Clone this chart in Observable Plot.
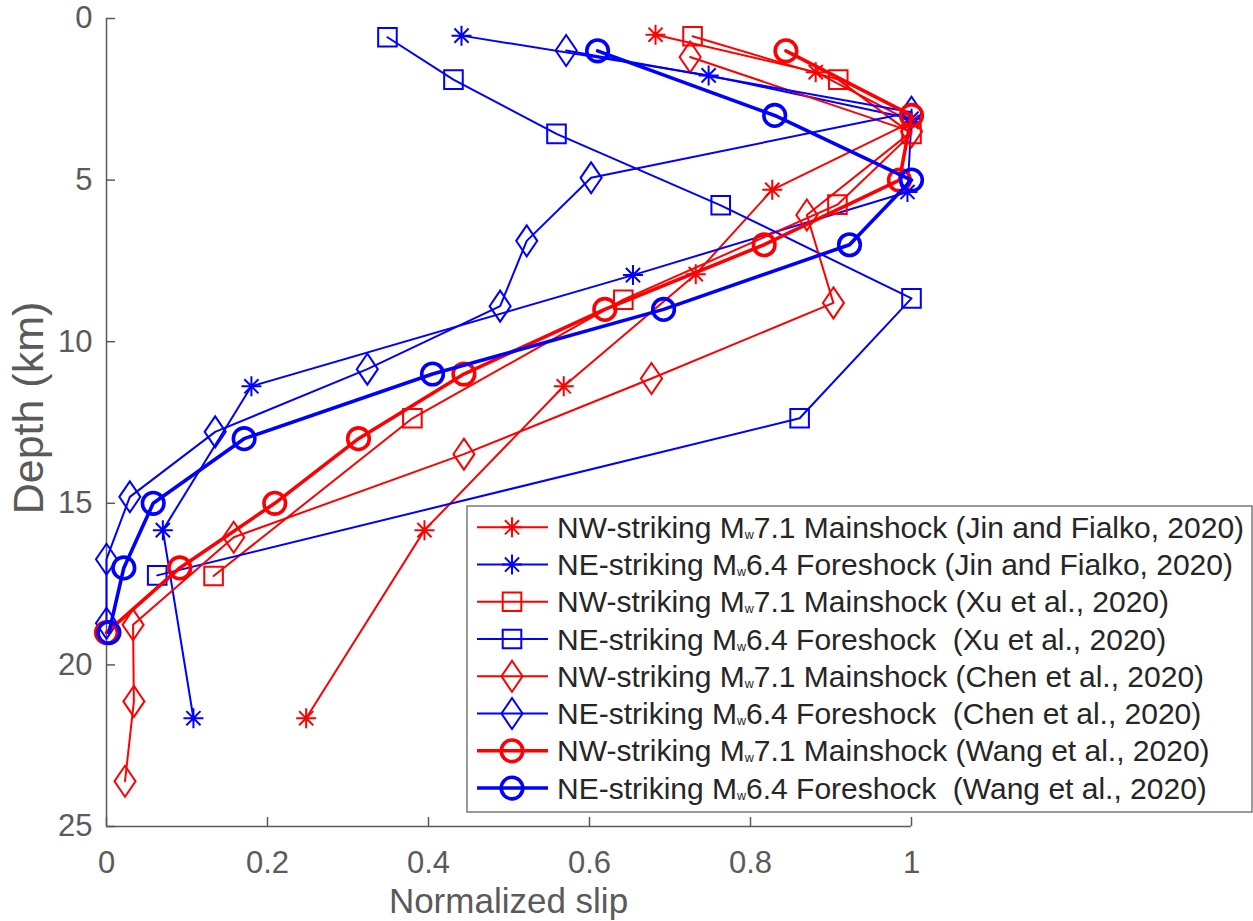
<!DOCTYPE html>
<html><head><meta charset="utf-8">
<script src="https://cdn.jsdelivr.net/npm/d3@7"></script>
<script src="https://cdn.jsdelivr.net/npm/@observablehq/plot@0.6"></script>
<style>
body{margin:0;background:#fff}
svg text{white-space:pre}
</style>
</head><body><div id="chart"></div>
<script>
// ---- ticks ----
const xTicks = [0, 0.2, 0.4, 0.6, 0.8, 1];
const yTicks = [0, 5, 10, 15, 20, 25];

// ---- data (depth km, normalized slip) ----
const jinNWDepth = [0.5, 1.66, 3.2, 5.3, 7.91, 11.38, 15.83, 21.65];
const jinNWSlip  = [0.682, 0.881, 1.0, 0.827, 0.732, 0.568, 0.395, 0.248];
const jinNEDepth = [0.53, 1.76, 3.1, 5.37, 7.94, 11.38, 15.83, 21.65];
const jinNESlip  = [0.441, 0.748, 1.0, 0.995, 0.654, 0.180, 0.070, 0.108];

const xuNWDepth = [0.55, 1.89, 3.57, 5.76, 8.7, 12.37, 17.25];
const xuNWSlip  = [0.728, 0.909, 1.0, 0.908, 0.642, 0.380, 0.133];
const xuNEDepth = [0.58, 1.89, 3.57, 5.78, 8.66, 12.37, 17.23];
const xuNESlip  = [0.349, 0.431, 0.559, 0.763, 1.0, 0.861, 0.063];

const chenNWDepth = [1.19, 3.5, 6.08, 8.8, 11.14, 13.48, 16.05, 18.76, 21.13, 23.6];
const chenNWSlip  = [0.725, 1.0, 0.870, 0.903, 0.677, 0.444, 0.158, 0.033, 0.034, 0.023];
const chenNEDepth = [0.99, 2.9, 4.93, 6.88, 8.9, 10.85, 12.79, 14.8, 16.73, 18.71];
const chenNESlip  = [0.571, 1.0, 0.602, 0.522, 0.489, 0.324, 0.135, 0.029, 0.0, 0.0];

const wangDepth  = [1, 3, 5, 7, 9, 11, 13, 15, 17, 19];
const wangNWSlip = [0.844, 1.0, 0.985, 0.817, 0.619, 0.444, 0.313, 0.209, 0.091, 0.0];
const wangNESlip = [0.610, 0.830, 1.0, 0.923, 0.692, 0.405, 0.171, 0.058, 0.0215, 0.003];

// ---- legend labels ----
const labelPre  = ["NW-striking M", "NE-striking M", "NW-striking M", "NE-striking M",
                   "NW-striking M", "NE-striking M", "NW-striking M", "NE-striking M"];
const labelSub  = "w";
const labelPost = ["7.1 Mainshock (Jin and Fialko, 2020)",
                   "6.4 Foreshock (Jin and Fialko, 2020)",
                   "7.1 Mainshock (Xu et al., 2020)",
                   "6.4 Foreshock  (Xu et al., 2020)",
                   "7.1 Mainshock (Chen et al., 2020)",
                   "6.4 Foreshock  (Chen et al., 2020)",
                   "7.1 Mainshock (Wang et al., 2020)",
                   "6.4 Foreshock  (Wang et al., 2020)"];

// ---- MATLAB-like marker symbols (size = pi r^2) ----
const symAsterisk = {draw(ctx, size) {
  const r = Math.sqrt(size / Math.PI), d = r * Math.SQRT1_2;
  ctx.moveTo(0, -r); ctx.lineTo(0, r);
  ctx.moveTo(-r, 0); ctx.lineTo(r, 0);
  ctx.moveTo(-d, -d); ctx.lineTo(d, d);
  ctx.moveTo(-d, d); ctx.lineTo(d, -d);
}};
const symSquare = {draw(ctx, size) {
  const r = Math.sqrt(size / Math.PI);
  ctx.moveTo(-r, -r); ctx.lineTo(r, -r); ctx.lineTo(r, r); ctx.lineTo(-r, r); ctx.closePath();
}};
const symDiamond = {draw(ctx, size) {
  const h = Math.sqrt(size / Math.PI), w = h * 0.68;
  ctx.moveTo(0, -h); ctx.lineTo(w, 0); ctx.lineTo(0, h); ctx.lineTo(-w, 0); ctx.closePath();
}};
const symCircle = {draw(ctx, size) {
  const r = Math.sqrt(size / Math.PI);
  ctx.moveTo(r, 0); ctx.arc(0, 0, r, 0, 2 * Math.PI);
}};

const RED = "#ff0000", BLUE = "#0000ff";
const series = [
  {depth: jinNWDepth,  slip: jinNWSlip,  color: RED,  sym: symAsterisk, r: 10,   w: 2},
  {depth: jinNEDepth,  slip: jinNESlip,  color: BLUE, sym: symAsterisk, r: 10,   w: 2},
  {depth: xuNWDepth,   slip: xuNWSlip,   color: RED,  sym: symSquare,   r: 9.3,  w: 2},
  {depth: xuNEDepth,   slip: xuNESlip,   color: BLUE, sym: symSquare,   r: 9.3,  w: 2},
  {depth: chenNWDepth, slip: chenNWSlip, color: RED,  sym: symDiamond,  r: 15.5, w: 2},
  {depth: chenNEDepth, slip: chenNESlip, color: BLUE, sym: symDiamond,  r: 15.5, w: 2},
  {depth: wangDepth,   slip: wangNWSlip, color: RED,  sym: symCircle,   r: 10.8, w: 3.6},
  {depth: wangDepth,   slip: wangNESlip, color: BLUE, sym: symCircle,   r: 10.8, w: 3.6}
];

const seriesMarks = series.flatMap(s => {
  const pts = s.depth.map((d, i) => ({depth: d, slip: s.slip[i]}));
  return [
    Plot.line(pts, {x: "slip", y: "depth", stroke: s.color, strokeWidth: s.w, strokeLinejoin: "round"}),
    Plot.dot(pts, {x: "slip", y: "depth", symbol: s.sym, r: s.r, stroke: s.color, fill: "none", strokeWidth: s.w})
  ];
});

const FONT = "'Liberation Sans', Helvetica, Arial, sans-serif";
const AXIS = "#5a5a5a";
const W = 1253, H = 921, ML = 106, MR = 342, MT = 18, MB = 95;

const svg = Plot.plot({
  width: W, height: H,
  marginLeft: ML, marginRight: MR, marginTop: MT, marginBottom: MB,
  style: {fontFamily: FONT, background: "#fff", overflow: "visible"},
  x: {domain: [0, 1]},
  y: {domain: [0, 25], reverse: true},
  marks: [
    Plot.axisX(xTicks, {tickSize: 0, tickPadding: 24, fontSize: 31, fill: AXIS, label: null, tickFormat: d => String(d)}),
    Plot.axisY(yTicks, {tickSize: 0, tickPadding: 14, fontSize: 31, fill: AXIS, label: null, tickFormat: d => String(d)}),
    Plot.ruleX(xTicks, {x: d => d, stroke: AXIS, strokeWidth: 1.5, insetTop: (H - MT - MB) - 9}),
    Plot.ruleY(yTicks, {y: d => d, stroke: AXIS, strokeWidth: 1.5, insetRight: (W - ML - MR) - 9}),
    Plot.ruleX([0], {stroke: AXIS, strokeWidth: 1.5}),
    Plot.ruleY([25], {stroke: AXIS, strokeWidth: 1.5}),
    ...seriesMarks
  ]
});
document.getElementById("chart").appendChild(svg);

const root = d3.select(svg);
// axis titles
root.append("text")
  .attr("x", (ML + W - MR) / 2).attr("y", 913)
  .attr("text-anchor", "middle").attr("font-size", 35).attr("fill", AXIS)
  .attr("font-family", FONT).text("Normalized slip");
root.append("text")
  .attr("transform", "translate(43,408) rotate(-90)")
  .attr("text-anchor", "middle").attr("font-size", 43).attr("fill", AXIS)
  .attr("font-family", FONT).text("Depth (km)");

// legend
const lg = root.append("g").attr("font-family", FONT).attr("text-anchor", "start");
lg.append("rect").attr("x", 467).attr("y", 506).attr("width", 785).attr("height", 306)
  .attr("fill", "#fff").attr("stroke", "#7a7a7a").attr("stroke-width", 1.5);
series.forEach((s, i) => {
  const cy = 527.3 + i * 37.25;
  lg.append("line").attr("x1", 477).attr("x2", 548).attr("y1", cy).attr("y2", cy)
    .attr("stroke", s.color).attr("stroke-width", s.w);
  lg.append("path").attr("transform", `translate(512,${cy})`)
    .attr("d", d3.symbol(s.sym, Math.PI * s.r * s.r)())
    .attr("fill", "none").attr("stroke", s.color).attr("stroke-width", s.w);
  const t = lg.append("text").attr("x", 557).attr("y", cy + 10.5)
    .attr("text-anchor", "start")
    .attr("font-size", 30).attr("fill", "#262626").attr("xml:space", "preserve");
  t.append("tspan").text(labelPre[i]);
  t.append("tspan").attr("font-size", 12.5).attr("dy", 1).text(labelSub);
  t.append("tspan").attr("dy", -1).text(labelPost[i]);
});
</script>
</body></html>
